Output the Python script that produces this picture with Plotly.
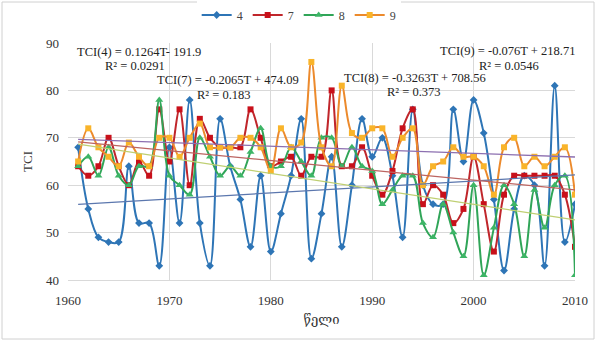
import plotly.graph_objects as go

years = list(range(1961, 2011))

tci_4 = [68, 55, 49, 48, 48, 64, 52, 52, 43, 68,
         52, 78, 52, 43, 74, 64, 57, 47, 62, 46,
         54, 62, 74, 44.5, 54, 66, 47, 60, 74, 66,
         70, 62, 49, 76, 60, 56, 56, 76, 65, 78,
         71, 57, 42, 55, 62, 60, 43, 81, 48, 56]
tci_7 = [64, 62, 64, 70, 64, 60, 65, 62, 76, 65,
         76, 60, 74, 70, 68, 68, 68, 76, 70, 64,
         65, 66, 62, 66, 66, 80, 64, 64, 68, 62,
         58, 63, 72, 76, 56, 60, 58, 52, 55, 66,
         56, 46, 58, 62, 62, 62, 62, 62, 58, 47]
tci_8 = [64, 66, 62, 68, 62, 60, 64, 64, 78, 62,
         60, 58, 70, 66, 62, 64, 62, 67, 72, 64,
         64, 68, 65, 62, 70, 70, 64, 68, 64, 63,
         56, 59, 62, 62, 52, 49, 56, 50, 45, 60,
         41, 51, 60, 56, 45, 59, 51, 60, 62, 41]
tci_9 = [65, 72, 68, 66, 64, 69, 66, 64, 70, 70,
         66, 70, 73, 68, 68, 68, 70, 70, 68, 63,
         72, 68, 69, 86, 68, 64, 81, 71, 70, 72,
         72, 66, 70, 72, 60, 64, 65, 68, 66, 66,
         64, 58, 68, 70, 64, 66, 64, 66, 68, 58]

# linear trend coefficients (slope, intercept) as printed on the chart
trend_4 = (0.1264, -191.9)
trend_7 = (-0.2065, 474.09)
trend_8 = (-0.3263, 708.56)
trend_9 = (-0.076, 218.71)

series = [
    ("4", tci_4, "#2E75B6", "#2E75B6", "diamond", 6, trend_4, "#5B77AE"),
    ("7", tci_7, "#C0262B", "#C8101A", "square", 6, trend_7, "#BC6461"),
    ("8", tci_8, "#30A558", "#3DB566", "triangle-up", 7, trend_8, "#BFCF72"),
    ("9", tci_9, "#EC8A2C", "#F9B42A", "square", 6, trend_9, "#8C6FB0"),
]

SERIF = "Liberation Serif, Times New Roman, DejaVu Serif, serif"

fig = go.Figure()
for name, vals, lc, mc, sym, ms, _, _ in series:
    fig.add_trace(go.Scatter(
        x=years, y=vals, name=name, mode="lines+markers",
        line=dict(color=lc, width=2, shape="spline", smoothing=1.0),
        marker=dict(symbol=sym, size=ms, color=mc, line=dict(width=0)),
    ))

for name, vals, lc, mc, sym, ms, (a, b), tc in series:
    tx = [years[0], years[-1]]
    ty = [a * t + b for t in tx]
    fig.add_trace(go.Scatter(
        x=tx, y=ty, mode="lines", showlegend=False, hoverinfo="skip",
        line=dict(color=tc, width=1.3),
    ))

# trend equations
eq_labels = [
    ("TCI(4) = 0.1264T- 191.9", 1960.7, 88.0, "left"),
    ("R² = 0.0291", 1969.8, 85.2, "right"),
    ("TCI(7) = -0.2065T + 474.09", 1968.6, 82.1, "left"),
    ("R² = 0.183", 1978.2, 79.0, "right"),
    ("TCI(8) = -0.3263T + 708.56", 1987.0, 82.7, "left"),
    ("R² = 0.373", 1997.0, 79.6, "right"),
    ("TCI(9) = -0.076T + 218.71", 1996.5, 88.3, "left"),
    ("R² = 0.0546", 2006.6, 85.2, "right"),
]
for txt, ax, ay, anc in eq_labels:
    fig.add_annotation(x=ax, y=ay, text=txt, showarrow=False, xanchor=anc,
                       yanchor="middle", font=dict(family=SERIF, size=12.5, color="#222"))

W, H = 596, 341
ml, mr, mt, mb = 68, 21, 43, 61
pw, ph = W - ml - mr, H - mt - mb

# outer chart frame
fig.add_shape(type="rect", xref="paper", yref="paper",
              x0=(2 - ml) / pw, x1=(W - 2 - ml) / pw,
              y0=-(H - 2 - mt - ph) / ph, y1=(H - 2 - mb) / ph,
              line=dict(color="#D0D0D0", width=1), layer="below")

fig.update_layout(
    width=W, height=H,
    margin=dict(l=ml, r=mr, t=mt, b=mb, autoexpand=False),
    paper_bgcolor="white", plot_bgcolor="white",
    font=dict(family=SERIF, size=13, color="#333"),
    legend=dict(orientation="h", x=0.455, xanchor="center",
                y=1 + (mt - 15) / ph, yanchor="middle",
                font=dict(family=SERIF, size=12, color="#444"),
                itemwidth=30, traceorder="normal"),
    xaxis=dict(range=[1960, 2010], dtick=10, tick0=1960, showgrid=True,
               gridcolor="#D9D9D9", gridwidth=1, zeroline=False, showline=True,
               linecolor="#D9D9D9", ticks="", ticklabelstandoff=8,
               tickfont=dict(family=SERIF, size=13, color="#333"),
               title=dict(text="წელი", standoff=8,
                          font=dict(family="DejaVu Serif, DejaVu Sans", size=13, color="#333"))),
    yaxis=dict(range=[40, 90], dtick=10, showgrid=True, gridcolor="#D9D9D9",
               gridwidth=1, zeroline=False, showline=False, ticks="",
               ticklabelstandoff=8,
               tickfont=dict(family=SERIF, size=13, color="#333"),
               title=dict(text="TCI", standoff=10,
                          font=dict(family=SERIF, size=13, color="#333"))),
)

fig.write_html("out.html")
